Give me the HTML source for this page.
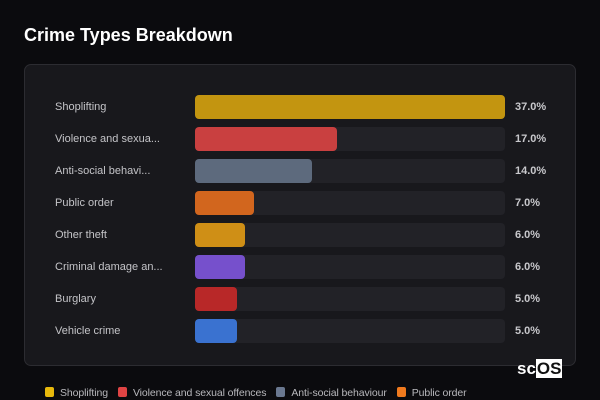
<!DOCTYPE html>
<html><head><meta charset="utf-8"><style>
body{margin:0;width:600px;height:400px;background:#0b0b0e;font-family:"Liberation Sans",sans-serif;overflow:hidden;position:relative}
#title{position:absolute;left:24px;top:25px;font-size:18px;font-weight:bold;color:#fff}
#panel{position:absolute;left:24px;top:64px;width:552px;height:302px;background:#18181c;border:1px solid #2c2c31;border-radius:7px;box-sizing:border-box}
.lab{position:absolute;left:55px;font-size:11px;color:#c4c4c8;line-height:25px}
.val{position:absolute;left:515px;font-size:11px;font-weight:bold;color:#c8c8cc;line-height:25px}
.track{position:absolute;left:195px;width:310px;height:24px;background:#222227;border-radius:4px}
.bar{position:absolute;left:195px;height:24px;border-radius:4px}
#legend{position:absolute;left:45px;top:387px;font-size:10.5px;color:#b8b8bc;white-space:nowrap;letter-spacing:-0.1px}
.li{display:inline-block;margin-right:10px}
.sw{display:inline-block;width:9px;height:10px;border-radius:2px;vertical-align:-1px;margin-right:6px}
#logo{position:absolute;left:517px;top:359px;font-size:17px;font-weight:bold;color:#fff}
#logo span{background:#fff;color:#111;padding:0 1px}
</style></head><body>
<div id="title">Crime Types Breakdown</div>
<div id="panel"></div>
<div id="chart"></div>
<div id="legend"></div>
<div id="logo">sc<span>OS</span></div>
<script>
const categories=["Shoplifting","Violence and sexua...","Anti-social behavi...","Public order","Other theft","Criminal damage an...","Burglary","Vehicle crime"];
const values=[37,17,14,7,6,6,5,5];
const colors=["#c39510","#c94040","#5d6a7d","#d2661e","#cf8f16","#7650cc","#b82828","#3a72d0"];
const legendLabels=["Shoplifting","Violence and sexual offences","Anti-social behaviour","Public order"];
const legendColors=["#e8b90c","#e04444","#6a7890","#f07a1e"];
const maxV=Math.max(...values);
function xw(v){return v/maxV*310;}
function yRow(i){return 95+i*32;}
const c=document.getElementById('chart');
categories.forEach((cat,i)=>{
 const y=yRow(i);
 const l=document.createElement('div');l.className='lab';l.style.top=y+'px';l.textContent=cat;
 
 c.appendChild(l);
 const t=document.createElement('div');t.className='track';t.style.top=y+'px';
 
 c.appendChild(t);
 const b=document.createElement('div');b.className='bar';b.style.top=y+'px';b.style.width=xw(values[i])+'px';b.style.background=colors[i];
 
 c.appendChild(b);
 const v=document.createElement('div');v.className='val';v.style.top=y+'px';v.textContent=values[i].toFixed(1)+'%';
 
 c.appendChild(v);
});
const lg=document.getElementById('legend');
legendLabels.forEach((n,i)=>{
 const e=document.createElement('span');e.className='li';
 
 
 e.innerHTML='<span class="sw" style="background:'+legendColors[i]+'"></span>'+n;
 lg.appendChild(e);
});
</script>
</body></html>
